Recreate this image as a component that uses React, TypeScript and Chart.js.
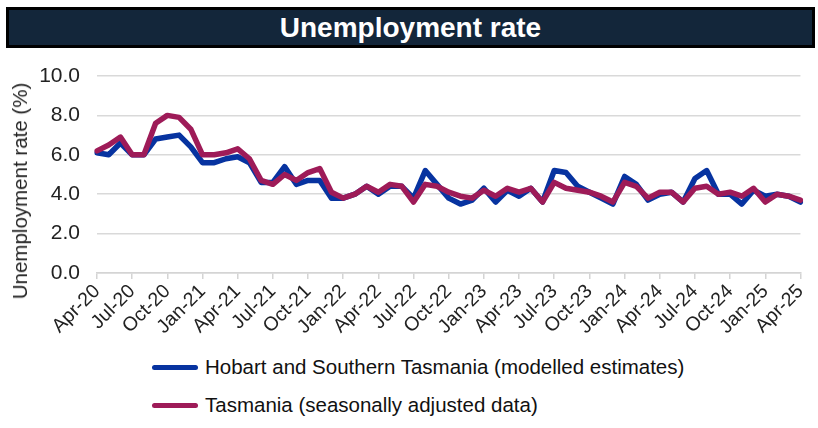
import React, { useEffect, useRef } from "react";
import { Chart, registerables } from "chart.js";

Chart.register(...registerables);

const TITLE = "Unemployment rate";
const Y_TITLE = "Unemployment rate (%)";

const categories = [
  "Apr-20", "May-20", "Jun-20", "Jul-20", "Aug-20", "Sep-20", "Oct-20", "Nov-20", "Dec-20",
  "Jan-21", "Feb-21", "Mar-21", "Apr-21", "May-21", "Jun-21", "Jul-21", "Aug-21", "Sep-21",
  "Oct-21", "Nov-21", "Dec-21", "Jan-22", "Feb-22", "Mar-22", "Apr-22", "May-22", "Jun-22",
  "Jul-22", "Aug-22", "Sep-22", "Oct-22", "Nov-22", "Dec-22", "Jan-23", "Feb-23", "Mar-23",
  "Apr-23", "May-23", "Jun-23", "Jul-23", "Aug-23", "Sep-23", "Oct-23", "Nov-23", "Dec-23",
  "Jan-24", "Feb-24", "Mar-24", "Apr-24", "May-24", "Jun-24", "Jul-24", "Aug-24", "Sep-24",
  "Oct-24", "Nov-24", "Dec-24", "Jan-25", "Feb-25", "Mar-25", "Apr-25",
];

const hobartLabel = "Hobart and Southern Tasmania (modelled estimates)";
const hobartValues = [
  6.1, 6.0, 6.6, 6.0, 6.0, 6.8, 6.9, 7.0, 6.4,
  5.6, 5.6, 5.8, 5.9, 5.6, 4.6, 4.6, 5.4, 4.5,
  4.7, 4.7, 3.8, 3.8, 4.0, 4.4, 4.0, 4.4, 4.4,
  3.8, 5.2, 4.5, 3.8, 3.5, 3.7, 4.3, 3.6, 4.2,
  3.9, 4.3, 3.6, 5.2, 5.1, 4.4, 4.1, 3.8, 3.5,
  4.9, 4.5, 3.7, 4.0, 4.1, 3.6, 4.8, 5.2, 4.0,
  4.0, 3.5, 4.2, 3.9, 4.0, 3.9, 3.6,
];

const tasLabel = "Tasmania (seasonally adjusted data)";
const tasValues = [
  6.2, 6.5, 6.9, 6.0, 6.0, 7.6, 8.0, 7.9, 7.3,
  6.0, 6.0, 6.1, 6.3, 5.8, 4.7, 4.5, 5.0, 4.7,
  5.1, 5.3, 4.1, 3.8, 4.0, 4.4, 4.1, 4.5, 4.4,
  3.6, 4.5, 4.4, 4.1, 3.9, 3.8, 4.2, 3.9, 4.3,
  4.1, 4.3, 3.6, 4.6, 4.3, 4.2, 4.1, 3.9, 3.6,
  4.6, 4.4, 3.8, 4.1, 4.1, 3.6, 4.3, 4.4, 4.0,
  4.1, 3.9, 4.3, 3.6, 4.0, 3.9, 3.7,
];

const yTicks = [0, 2, 4, 6, 8, 10];

const BLUE = "#0733a0";
const RED = "#9e1b58";
const FONT = "'Liberation Sans', Arial, sans-serif";
const TEXT = "#222222";

export default function App() {
  const canvasRef = useRef<HTMLCanvasElement | null>(null);

  useEffect(() => {
    if (!canvasRef.current) return;
    const chart = new Chart(canvasRef.current, {
      type: "line",
      data: {
        labels: categories,
        datasets: [
          {
            label: tasLabel,
            data: tasValues,
            borderColor: RED,
            backgroundColor: RED,
            borderWidth: 5.5,
            pointRadius: 0,
            tension: 0,
            borderJoinStyle: "round",
            borderCapStyle: "round",
            order: 0,
          },
          {
            label: hobartLabel,
            data: hobartValues,
            borderColor: BLUE,
            backgroundColor: BLUE,
            borderWidth: 5.5,
            pointRadius: 0,
            tension: 0,
            borderJoinStyle: "round",
            borderCapStyle: "round",
            order: 1,
          },
        ],
      },
      options: {
        animation: false,
        responsive: false,
        devicePixelRatio: 1,
        layout: { padding: { top: 76, right: 11, left: 0, bottom: 0 } },
        plugins: {
          legend: { display: false },
          tooltip: { enabled: false },
          title: { display: false },
        },
        scales: {
          x: {
            type: "category",
            offset: false,
            afterFit: (scale: any) => {
              scale.height = 77;
            },
            grid: {
              display: true,
              drawOnChartArea: false,
              drawTicks: true,
              tickLength: 6,
              color: "#d4d4d4",
              lineWidth: 1.5,
            },
            border: { display: true, color: "#d4d4d4", width: 1.5 },
            ticks: {
              autoSkip: false,
              maxRotation: 45,
              minRotation: 45,
              padding: 1,
              color: TEXT,
              font: { family: FONT, size: 19.5 },
              callback: (_v: any, idx: number) => (idx % 3 === 0 ? categories[idx] : null),
            },
          },
          y: {
            min: yTicks[0],
            max: yTicks[yTicks.length - 1],
            afterFit: (scale: any) => {
              scale.width = 97;
            },
            afterBuildTicks: (scale: any) => {
              scale.ticks = yTicks.map((v) => ({ value: v }));
            },
            grid: { color: "#d9d9d9", lineWidth: 1.5, drawTicks: false },
            border: { display: false },
            ticks: {
              padding: 17,
              color: TEXT,
              font: { family: FONT, size: 21 },
              callback: (v: any) => Number(v).toFixed(1),
            },
          },
        },
      },
    });
    return () => chart.destroy();
  }, []);

  const legendItems = [
    { label: hobartLabel, color: BLUE, y: 367 },
    { label: tasLabel, color: RED, y: 405 },
  ];

  return (
    <div
      style={{
        position: "fixed",
        left: 0,
        top: 0,
        width: 818,
        height: 428,
        background: "#ffffff",
        fontFamily: FONT,
        overflow: "hidden",
      }}
    >
      <div
        style={{
          position: "absolute",
          left: 6,
          top: 7,
          width: 803,
          height: 35,
          border: "3px solid #000",
          background: "#13263a",
          color: "#fff",
          fontWeight: "bold",
          fontSize: 28,
          lineHeight: "35px",
          textAlign: "center",
        }}
      >
        {TITLE}
      </div>
      <canvas
        ref={canvasRef}
        width={818}
        height={350}
        style={{ position: "absolute", left: 0, top: 0, width: 818, height: 350 }}
      />
      <div
        style={{
          position: "absolute",
          left: 20,
          top: 191,
          transform: "translate(-50%, -50%) rotate(-90deg)",
          whiteSpace: "nowrap",
          fontSize: 20.5,
          color: TEXT,
        }}
      >
        {Y_TITLE}
      </div>
      {legendItems.map((it) => (
        <div key={it.label}>
          <div
            style={{
              position: "absolute",
              left: 152,
              top: it.y - 2.5,
              width: 46,
              height: 5,
              borderRadius: 3,
              background: it.color,
            }}
          />
          <div
            style={{
              position: "absolute",
              left: 205,
              top: it.y - 12,
              height: 24,
              lineHeight: "24px",
              fontSize: 20.5,
              color: "#111",
              whiteSpace: "nowrap",
            }}
          >
            {it.label}
          </div>
        </div>
      ))}
    </div>
  );
}
